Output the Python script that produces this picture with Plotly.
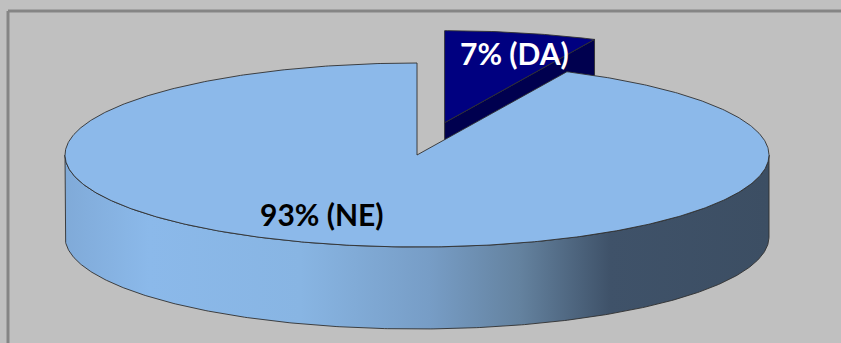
import numpy as np
import plotly.graph_objects as go

# Slice data (clockwise from 12 o'clock)
labels = ["DA", "NE"]
shares = [7, 93]
explode = [0.36, 0.0]

# Colours per slice
top_colors = ["#000080", "#8cb9ea"]
face_colors = ["#00004f", "#3c4e63"]
side_scales = [
    [[0, "#000060"], [1, "#000040"]],
    [[0.0, "#80aad8"], [0.12, "#8bb9ea"], [0.334, "#88b5e3"], [0.518, "#779dc6"],
     [0.646, "#64829f"], [0.774, "#3f5269"], [1.0, "#3c4e63"]],
]
label_colors = ["white", "black"]
label_pos = [(514, 53), (322, 214)]

# Projection of the tilted pie (pixel space)
W, H = 841, 343
cx, cy = 417, 155      # centre of top face
rx, ry = 352, 92       # semi-axes of top ellipse
depth = 82             # thickness of the pie
edge = dict(color="#303030", width=0.9)


def pt(theta, off, r=1.0, dz=0.0):
    t = np.radians(theta)
    return (cx + off[0] + r * rx * np.sin(t), cy + off[1] - r * ry * np.cos(t) + dz)


def arc(t0, t1, off, dz=0.0, n=None):
    n = n or max(4, int(abs(t1 - t0) * 2))
    ts = np.linspace(t0, t1, n)
    xs = cx + off[0] + rx * np.sin(np.radians(ts))
    ys = cy + off[1] - ry * np.cos(np.radians(ts)) + dz
    return list(xs), list(ys)


fig = go.Figure()

# Build slice angles
total = sum(shares)
slices = []
start = 0.0
for i, s in enumerate(shares):
    end = start + 360.0 * s / total
    mid = (start + end) / 2
    m = np.radians(mid)
    off = (explode[i] * rx * np.sin(m), -explode[i] * ry * np.cos(m))
    slices.append(dict(i=i, s=start, e=end, off=off))
    start = end

# Paint from back to front
for sl in sorted(slices, key=lambda d: d["off"][1]):
    i, s, e, off = sl["i"], sl["s"], sl["e"], sl["off"]
    c = (cx + off[0], cy + off[1])

    # cut faces along the radii
    for ang, vis in ((s, np.sin(np.radians(s)) < -1e-6), (e, np.sin(np.radians(e)) > 1e-6)):
        if not vis:
            continue
        p = pt(ang, off)
        xs = [c[0], p[0], p[0], c[0], c[0]]
        ys = [c[1], p[1], p[1] + depth, c[1] + depth, c[1]]
        fig.add_trace(go.Scatter(x=xs, y=ys, mode="lines", fill="toself",
                                 fillcolor=face_colors[i], line=edge, hoverinfo="skip"))

    # outer curved side (front half only)
    a0, a1 = max(s, 90.0), min(e, 270.0)
    if a1 > a0:
        tx, ty = arc(a0, a1, off)
        bx, by = arc(a1, a0, off, dz=depth)
        xs = tx + bx + [tx[0]]
        ys = ty + by + [ty[0]]
        fig.add_trace(go.Scatter(
            x=xs, y=ys, mode="lines", fill="toself", line=edge, hoverinfo="skip",
            fillgradient=dict(type="horizontal", colorscale=side_scales[i],
                              start=cx + off[0] - rx, stop=cx + off[0] + rx)))

    # top face
    tx, ty = arc(s, e, off)
    xs = [c[0]] + tx + [c[0]]
    ys = [c[1]] + ty + [c[1]]
    fig.add_trace(go.Scatter(x=xs, y=ys, mode="lines", fill="toself",
                             fillcolor=top_colors[i], line=edge, hoverinfo="skip"))

# Data labels
for i, (lab, val) in enumerate(zip(labels, shares)):
    fig.add_annotation(x=label_pos[i][0], y=label_pos[i][1], text=f"{val}% ({lab})",
                       showarrow=False, xanchor="center", yanchor="middle",
                       font=dict(family="Lato", size=30, color=label_colors[i], weight="bold"))

# Chart frame (top and left edges; the rest runs off the canvas)
frame = dict(color="#858585", width=3)
fig.add_shape(type="line", xref="paper", yref="paper", x0=8 / W, x1=1.1,
              y0=1 - 11 / H, y1=1 - 11 / H, line=frame, layer="above")
fig.add_shape(type="line", xref="paper", yref="paper", x0=8 / W, x1=8 / W,
              y0=1 - 11 / H, y1=-0.1, line=frame, layer="above")

fig.update_layout(
    width=W, height=H, margin=dict(l=0, r=0, t=0, b=0),
    paper_bgcolor="#c0c0c0", plot_bgcolor="#c0c0c0", showlegend=False,
    xaxis=dict(range=[0, W], visible=False, fixedrange=True),
    yaxis=dict(range=[H, 0], visible=False, fixedrange=True),
)

fig.write_html("out.html", config={"displayModeBar": False})
